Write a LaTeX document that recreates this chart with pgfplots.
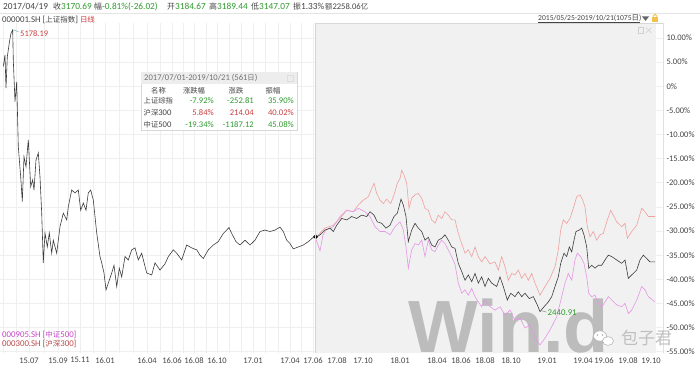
\documentclass[border=0pt]{standalone}
\usepackage{pgfplots}
\pgfplotsset{compat=1.18}
\usepackage{fontspec}
\setmainfont{Carlito}
\newfontfamily\cjk[Scale=0.85]{Noto Sans CJK SC}
\newfontfamily\wfont{Liberation Sans}
\definecolor{gtxt}{HTML}{444444}
\definecolor{tickc}{HTML}{444444}
\definecolor{vgreen}{HTML}{2E9A2E}
\definecolor{vred}{HTML}{C83C3C}
\definecolor{shz}{HTML}{3C3C3C}
\definecolor{hs}{HTML}{F0A0A0}
\definecolor{zz}{HTML}{E696E6}
\definecolor{gridc}{HTML}{EFEFEF}
\definecolor{shadec}{HTML}{F1F1F1}
\definecolor{bord}{HTML}{D8D8D8}
\definecolor{sepc}{HTML}{E4E4E4}
\definecolor{lockc}{HTML}{F2C14E}
\definecolor{rbord}{HTML}{E0E0E0}
\definecolor{lbord}{HTML}{D4D4D4}
\definecolor{iconc}{HTML}{D0D0D0}
\definecolor{zzlab}{HTML}{C646C6}
\definecolor{hslab}{HTML}{B84A4A}
\definecolor{titbar}{HTML}{EDEDED}
\definecolor{icon2}{HTML}{DDDDDD}
\definecolor{wmark}{HTML}{BCBCBC}
\begin{document}
\begin{tikzpicture}[font=\fontsize{8.5}{9.5}\selectfont]
\path[use as bounding box] (0pt,0pt) rectangle (700pt,-371pt);
\begin{axis}[
  at={(0pt,-353pt)}, anchor=south west,
  scale only axis, width=663pt, height=330pt,
  xmin=0, xmax=663, ymin=-55.28, ymax=13.11,
  axis line style={draw=none},
  major tick length=0pt,
  xtick={29,58,80,105,147,172,194,217,253,290,313,337,363,400,437,461,485,511,547,583,604,628,651},
  xticklabels={15.07,15.09,15.11,16.01,16.04,16.06,16.08,16.10,17.01,17.04,17.06,17.08,17.10,18.01,18.04,18.06,18.08,18.10,19.01,19.04,19.06,19.08,19.10},
  ytick={10,5,0,-5,-10,-15,-20,-25,-30,-35,-40,-45,-50,-55},
  yticklabels={10.00\%,5.00\%,0\%,-5.00\%,-10.00\%,-15.00\%,-20.00\%,-25.00\%,-30.00\%,-35.00\%,-40.00\%,-45.00\%,-50.00\%,-55.00\%},
  ymajorgrids=true,
  major grid style={draw=gridc, line width=0.7pt},
  yticklabel pos=right,
  yticklabel style={anchor=west},
  xticklabel style={inner sep=1pt, yshift=-3.3pt},
  ticklabel style={font=\fontsize{8.5}{9.5}\selectfont, text=tickc},
  extra x ticks={3,16,29,44,58,68,80,93,105,119,133,147,160,172,183,194,206,217,229,241,253,265,278,290,301,313},
  extra x tick labels={},
  extra x tick style={grid=major, major grid style={draw=gridc, line width=0.7pt}},
]
\fill[shadec] (axis cs:315,13.11) rectangle (axis cs:656,-55.28);
\node[anchor=base west, inner sep=0pt, text depth=0pt, font=\wfont\bfseries\fontsize{74}{74}\selectfont, text=wmark] at (axis cs:408,-55.08) {Win.d};
% 300 (CSI 300)
\addplot[hs, line width=0.6pt] coordinates {
(315,-31.2)(318.3,-30.8)(325,-29.4)(333.3,-28.8)(340,-27.4)(346.7,-25.7)(353.3,-26.0)(358.3,-24.6)(363.3,-23.6)(368.3,-22.9)(371.7,-21.2)(374,-20.1)(376.7,-22.2)(380,-23.6)(383.3,-24.3)(386.7,-23.4)(390.7,-24.3)(394,-22.5)(397.3,-20.1)(400,-19.1)(401.7,-17.4)(404,-18.4)(406.7,-20.1)(409,-25.3)(411.7,-23.2)(415,-22.5)(418.3,-22.2)(421.7,-23.2)(425,-25.3)(428.3,-25.7)(431.7,-27.7)(435,-28.4)(438.3,-26.7)(441.7,-27.4)(445,-26.0)(448.3,-26.7)(451.7,-27.7)(455,-27.7)(458.3,-30.5)(461.7,-32.6)(465,-34.6)(468.3,-33.9)(471.7,-35.3)(475,-33.3)(478.3,-35.3)(481.7,-36.4)(485,-35.3)(490,-36.8)(495,-36.4)(498.3,-38.1)(501.7,-35.3)(505,-37.4)(508.3,-40.2)(511.7,-38.8)(515,-39.1)(518.3,-38.1)(521.7,-39.8)(525,-38.8)(528.3,-40.2)(531.7,-38.8)(535,-40.8)(540,-43.3)(545,-41.5)(550,-39.8)(555,-37.4)(558.3,-33.9)(560.7,-29.8)(563.3,-27.7)(566.7,-28.4)(570,-27.4)(573.3,-25.3)(576.7,-22.9)(580,-22.5)(582.7,-23.6)(585,-25.0)(587.3,-29.1)(590,-31.2)(593.3,-30.1)(596.7,-31.9)(600,-30.8)(603.3,-30.5)(606.7,-28.1)(610.7,-25.7)(614,-27.0)(616.7,-28.1)(621.7,-29.1)(625,-28.4)(627.3,-31.5)(631.7,-30.1)(636.7,-28.8)(641.7,-25.3)(645,-26.0)(648.3,-27.0)(655,-27.0)
};
% 500 (CSI 500)
\addplot[zz, line width=0.6pt] coordinates {
(315,-31.2)(318,-32.9)(320,-34.1)(323,-30.8)(326,-29.8)(333.3,-29.1)(340,-27.0)(346.7,-25.7)(353.3,-26.0)(358.3,-25.3)(365,-26.0)(370,-27.0)(375,-29.1)(380,-30.1)(385,-30.1)(390,-30.8)(395,-29.1)(400,-28.1)(403.3,-29.8)(406,-33.3)(408.3,-37.7)(411.7,-33.9)(415,-32.6)(418.3,-32.9)(421.7,-31.9)(425,-35.3)(428.3,-31.9)(431.7,-33.9)(435,-34.3)(438.3,-32.9)(441.7,-31.9)(445,-32.6)(448.3,-33.9)(451.7,-35.3)(455,-36.9)(458.3,-40.8)(461.7,-42.9)(465,-42.2)(468.3,-43.3)(471.7,-41.9)(475,-43.6)(478.3,-44.7)(481.7,-45.7)(485,-44.3)(490,-45.7)(495,-46.4)(500,-45.7)(505,-47.4)(510,-46.4)(515,-48.5)(520,-48.0)(525,-50.1)(530,-49.5)(535,-52.2)(540,-53.6)(545,-52.2)(550,-50.5)(556.7,-47.8)(561.7,-43.6)(565,-40.8)(568.3,-38.8)(571.7,-40.2)(575,-36.0)(577.3,-34.6)(580.7,-35.3)(584,-36.7)(586.7,-39.5)(588.7,-42.9)(591.7,-43.6)(595,-43.3)(598.3,-45.0)(601.7,-45.7)(605,-44.7)(608.3,-43.6)(611.7,-44.3)(616.7,-45.3)(621.7,-45.7)(625,-45.0)(628.3,-47.1)(631.7,-46.4)(636.7,-44.3)(641.7,-41.5)(645,-42.2)(648.3,-43.6)(655,-44.7)
};
% SSE composite
\addplot[shz, line width=0.6pt] coordinates {
(3.3,4.1)(5,6.5)(6,-0.4)(7.3,6.1)(9.3,9.0)(11,11.0)(12.7,11.7)(13.3,5.4)(15,-3.2)(16.7,0.9)(18.3,-12.5)(20.7,-18.8)(22.3,-23.9)(24,-14.6)(26,-16.7)(28.3,-11.1)(30.7,-20.8)(32.7,-19.4)(34,-21.5)(36,-15.3)(38.3,-13.8)(40,-18.8)(41.7,-26.3)(43.3,-36.6)(45,-30.4)(47.3,-33.3)(49.3,-30.4)(51.7,-34.6)(53.3,-31.9)(56.7,-34.6)(60,-29.1)(63.3,-26.3)(66.7,-27.7)(68.3,-25.0)(71.7,-21.5)(75,-22.1)(78.3,-21.5)(80.7,-25.7)(83.3,-24.2)(86,-25.7)(88.3,-22.1)(90.7,-21.5)(93.3,-23.6)(96.7,-30.4)(100,-35.3)(101.7,-36.6)(104,-38.7)(106,-42.2)(108.3,-40.8)(111.7,-38.7)(114,-37.1)(116.7,-41.5)(119.3,-37.7)(121.7,-39.5)(125,-35.3)(128.3,-36.0)(131.7,-33.9)(135,-33.5)(138.3,-36.0)(141.7,-34.6)(146.7,-38.7)(151.7,-39.1)(155,-36.6)(160,-38.1)(165,-36.8)(168.3,-35.3)(173.3,-33.9)(176.7,-34.6)(181.7,-36.0)(186.7,-32.9)(191.7,-33.5)(196.7,-33.9)(200,-35.0)(203.3,-35.7)(208.3,-33.9)(213.3,-32.9)(218.3,-32.2)(223.3,-30.5)(229,-29.3)(231.7,-30.5)(236,-32.2)(240,-32.9)(245,-31.9)(250,-32.9)(255,-31.9)(260,-30.1)(265,-29.8)(270,-30.1)(275,-29.8)(280,-29.2)(283.3,-30.1)(286.7,-31.9)(290,-32.6)(293.3,-33.7)(298.3,-33.3)(303.3,-32.9)(308.3,-32.2)(313.3,-31.3)(316.7,-31.2)(320,-30.8)(325,-29.8)(330,-29.4)(333.3,-30.1)(336.7,-28.8)(341.7,-27.4)(346.7,-27.7)(351.7,-27.0)(356.7,-27.4)(361.7,-26.7)(366.7,-27.0)(370,-26.0)(374,-26.7)(377.3,-28.1)(381.7,-28.4)(386,-29.4)(390,-28.8)(394,-27.0)(397.3,-26.3)(401,-23.4)(403.3,-24.6)(406,-27.0)(408.3,-32.2)(411.7,-29.8)(415,-28.4)(418.3,-29.4)(421.7,-30.1)(425,-31.9)(428.3,-31.3)(431.7,-32.9)(435,-33.3)(438.3,-31.9)(441.7,-31.5)(445,-30.8)(448.3,-31.9)(451.7,-33.3)(455,-33.6)(458.3,-36.7)(461.7,-38.4)(465,-40.2)(468.3,-39.1)(471.7,-40.5)(475,-38.8)(478.3,-40.8)(481.7,-39.5)(485,-41.5)(488.3,-39.8)(491.7,-40.8)(496.7,-41.5)(500,-39.5)(503.3,-41.5)(507.3,-44.3)(510.7,-42.9)(515,-43.6)(518.3,-42.6)(521.7,-43.6)(525,-42.9)(529.3,-44.0)(533.3,-43.6)(537.3,-45.3)(540,-46.7)(544,-45.7)(548.3,-44.7)(551.7,-43.6)(555,-41.5)(558.3,-39.5)(560.7,-36.7)(564,-34.6)(566.7,-35.3)(569.3,-33.3)(571.7,-34.3)(574,-31.9)(576,-30.1)(579.3,-29.8)(581.7,-29.4)(584,-30.8)(586.7,-33.3)(588.7,-37.7)(591.7,-37.1)(595,-37.7)(598.3,-37.1)(601.7,-37.1)(605,-36.0)(608.3,-35.0)(611.7,-35.3)(616.7,-36.0)(621.7,-36.7)(625,-36.0)(628.3,-39.8)(631.7,-39.1)(636.7,-38.1)(640,-36.0)(643.3,-35.0)(646.7,-35.7)(650,-36.4)(655,-36.4)
};
\addplot[black, only marks, mark=o, mark size=1.8pt, line width=0.9pt] coordinates {(315.5,-31.2)};
\draw[teal!60, line width=0.5pt] (axis cs:13.3,11.7) -- (axis cs:18.5,11.3);
\node[anchor=west, inner sep=0pt, text=vred] at (axis cs:20,10.9) {5178.19};
\draw[black!45, line width=0.5pt] (axis cs:541,-46.5) -- (axis cs:546.5,-46.8);
\node[anchor=west, inner sep=0pt, text=vgreen, font=\fontsize{8.8}{9.5}\selectfont] at (axis cs:547.5,-46.9) {2440.91};
\end{axis}
\begin{scope}[x=1pt,y=-1pt]
% header
\draw[sepc, line width=0.6pt] (0,13.5) -- (700,13.5);
\begin{scope}[every node/.style={anchor=west, inner sep=0pt, text=gtxt, font=\fontsize{9.3}{10}\selectfont}]
\node at (3,6.5) {2017/04/19};
\node at (53,6.5) {{\cjk 收}\textcolor{vgreen}{3170.69}};
\node at (94,6.5) {{\cjk 幅}\textcolor{vgreen}{-0.81\%(-26.02)}};
\node at (167,6.5) {{\cjk 开}\textcolor{vgreen}{3184.67}};
\node at (209,6.5) {{\cjk 高}\textcolor{vgreen}{3189.44}};
\node at (251,6.5) {{\cjk 低}\textcolor{vgreen}{3147.07}};
\node at (293,6.5) {{\cjk 振}1.33\%};
\node[font=\fontsize{8.6}{10}\selectfont] at (325,6.5) {{\cjk 额}2258.06{\cjk 亿}};
\end{scope}
\begin{scope}[every node/.style={anchor=west, inner sep=0pt, font=\fontsize{8.8}{9.5}\selectfont}]
\node[text=gtxt] at (2,19.5) {000001.SH [{\cjk 上证指数}] \textcolor{vred}{\cjk 日线}};
\node[text=zzlab] at (2,335) {000905.SH [{\cjk 中证}500]};
\node[text=hslab] at (2,344) {000300.SH [{\cjk 沪深}300]};
\end{scope}
\node[anchor=west, inner sep=0pt, text=gtxt, font=\fontsize{7.6}{8.5}\selectfont] at (538,18.5) {2015/05/25-2019/10/21(1075{\cjk\fontsize{8.8}{9}\selectfont 日})};
\draw[gtxt, line width=0.4pt] (538,21.8) -- (640,21.8);
\fill[black!60] (642,16.5) -- (649,16.5) -- (645.5,21) -- cycle;
\fill[lockc] (652,17.5) rectangle (658,22);
\draw[lockc, line width=0.8pt] (653.3,17.5) -- (653.3,16) arc[start angle=180, end angle=360, radius=1.7] -- (656.7,17.5);
% plot frame
\draw[bord, line width=0.5pt] (315,23) -- (663,23);
\draw[rbord, line width=0.6pt] (663,23) -- (663,353);
\draw[lbord, line width=1.3pt] (315.5,23) -- (315.5,353);
\draw[iconc, line width=0.6pt] (638,27.5) rectangle (643.5,33);
\draw[iconc, line width=0.6pt] (646,27.5) -- (651.5,33) (646,33) -- (651.5,27.5);
% tooltip
\draw[fill=white, draw=bord, line width=0.5pt] (141,72) rectangle (297,130);
\fill[titbar] (141.4,72.4) rectangle (296.6,84.5);
\begin{scope}[every node/.style={inner sep=0pt, font=\fontsize{8.6}{9}\selectfont}]
\node[anchor=west, text=black!55] at (144,78.3) {2017/07/01-2019/10/21 (561{\cjk 日})};
\node[text=gtxt] at (158.5,90.5) {\cjk 名称};
\node[text=gtxt] at (194,90.5) {\cjk 涨跌幅};
\node[text=gtxt] at (236,90.5) {\cjk 涨跌};
\node[text=gtxt] at (273,90.5) {\cjk 振幅};
\node[anchor=west, text=gtxt] at (143.5,101) {\cjk 上证综指};
\node[anchor=west, text=gtxt] at (143.5,112.5) {{\cjk 沪深}300};
\node[anchor=west, text=gtxt] at (143.5,124.3) {{\cjk 中证}500};
\node[anchor=east, text=vgreen] at (214,101) {-7.92\%};
\node[anchor=east, text=vgreen] at (254,101) {-252.81};
\node[anchor=east, text=vgreen] at (294,101) {35.90\%};
\node[anchor=east, text=vred] at (214,112.5) {5.84\%};
\node[anchor=east, text=vred] at (254,112.5) {214.04};
\node[anchor=east, text=vred] at (294,112.5) {40.02\%};
\node[anchor=east, text=vgreen] at (214,124.3) {-19.34\%};
\node[anchor=east, text=vgreen] at (254,124.3) {-1187.12};
\node[anchor=east, text=vgreen] at (294,124.3) {45.08\%};
\end{scope}
\draw[icon2, line width=0.5pt] (287.5,75.5) rectangle (293,81);
% wechat watermark
\draw[black!30, fill=white, line width=0.6pt] (600,336) ellipse [x radius=6.5, y radius=5.2];
\draw[black!30, fill=white, line width=0.6pt] (608,341) ellipse [x radius=5.5, y radius=4.4];
\fill[black!30] (597.5,335) circle (0.8) (602.5,335) circle (0.8);
\node[anchor=west, inner sep=0pt, text=black!25, font=\cjk\fontsize{20}{20}\selectfont] at (621,338) {包子君};
\end{scope}
\end{tikzpicture}
\end{document}
